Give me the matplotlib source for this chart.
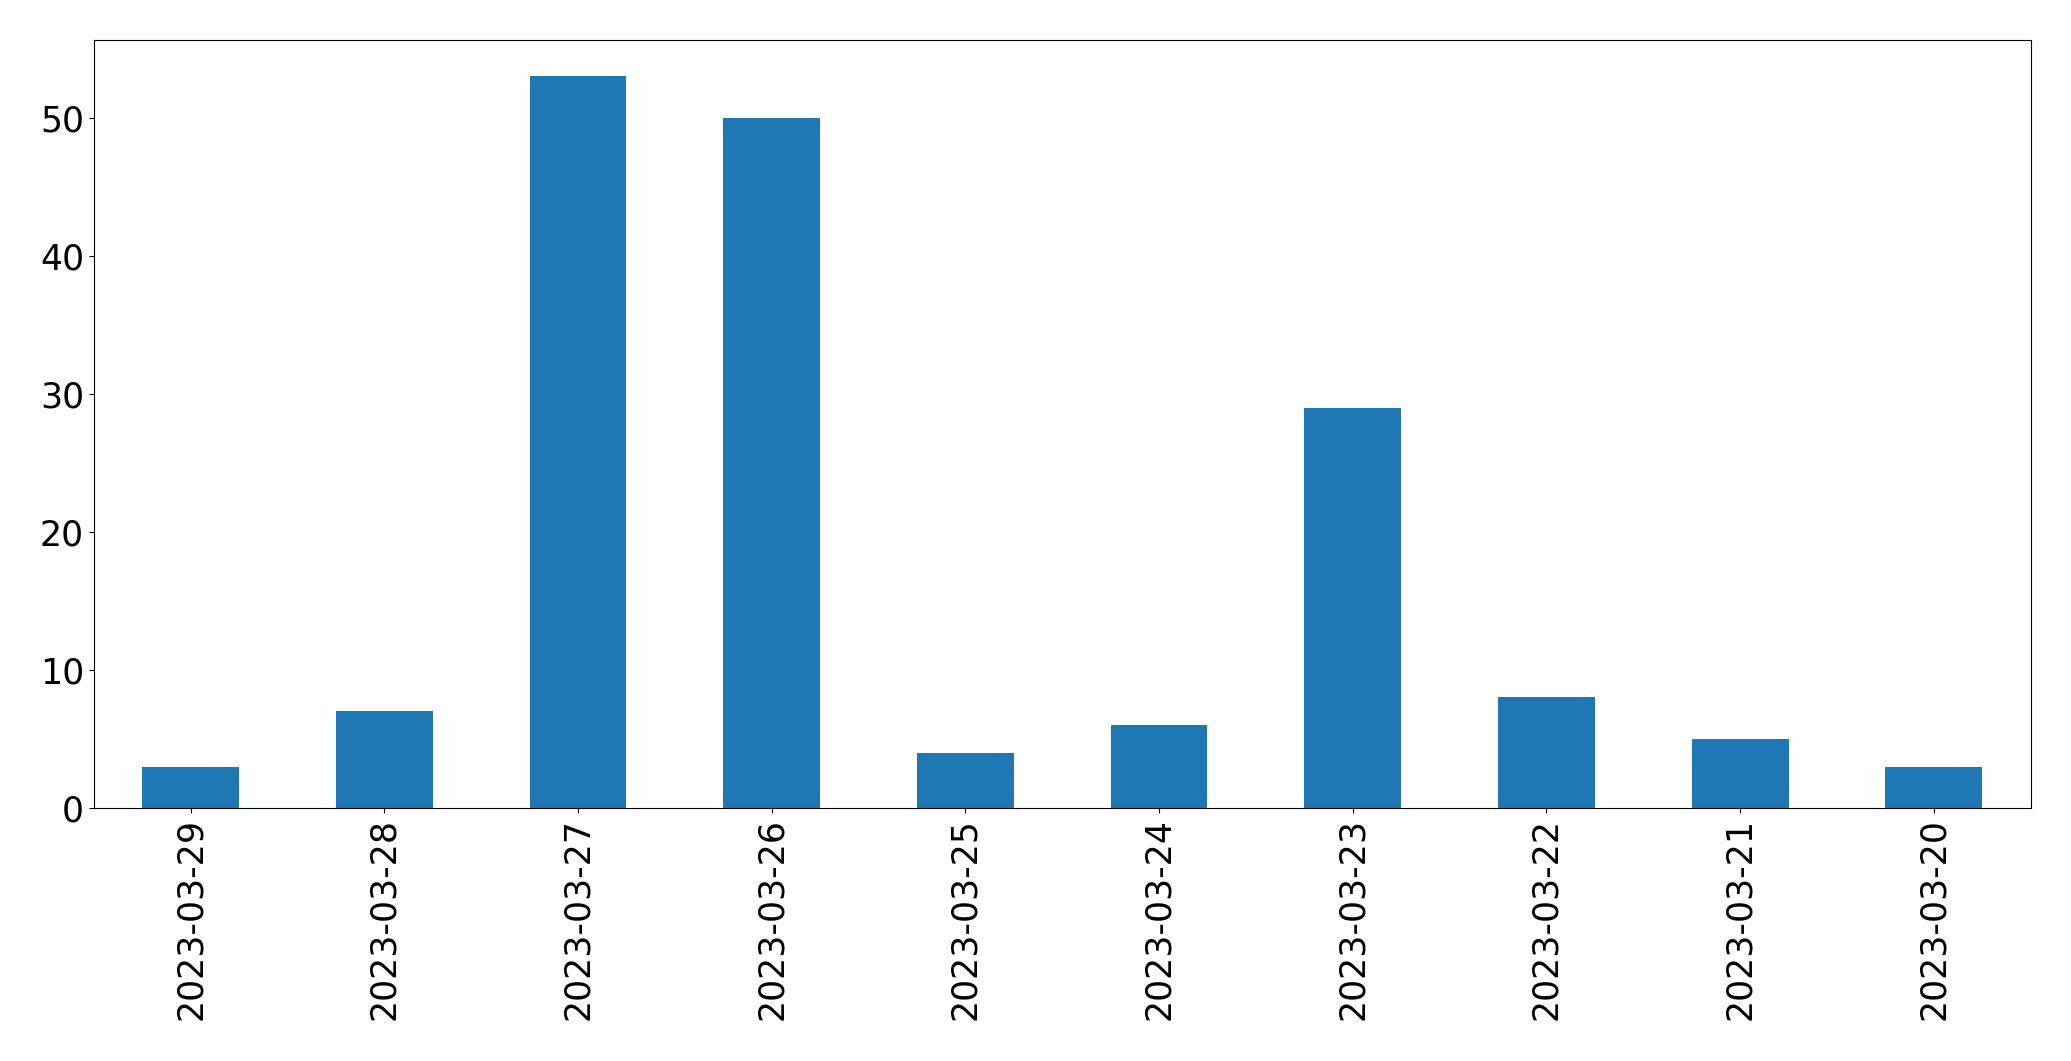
import pandas as pd
import matplotlib
matplotlib.use('Agg')
import matplotlib.pyplot as plt

dates = ['2023-03-29', '2023-03-28', '2023-03-27', '2023-03-26', '2023-03-25',
         '2023-03-24', '2023-03-23', '2023-03-22', '2023-03-21', '2023-03-20']
counts = [3, 7, 53, 50, 4, 6, 29, 8, 5, 3]

s = pd.Series(counts, index=dates)

fig = plt.figure(figsize=(20.71, 10.61), dpi=100)
ax = s.plot(kind='bar', color='#1f77b4', fontsize=25)
ax.set_yticks([0, 10, 20, 30, 40, 50])
plt.subplots_adjust(left=0.0453, right=0.9805, top=0.9627, bottom=0.2385)
plt.savefig('out.png', dpi=100)
